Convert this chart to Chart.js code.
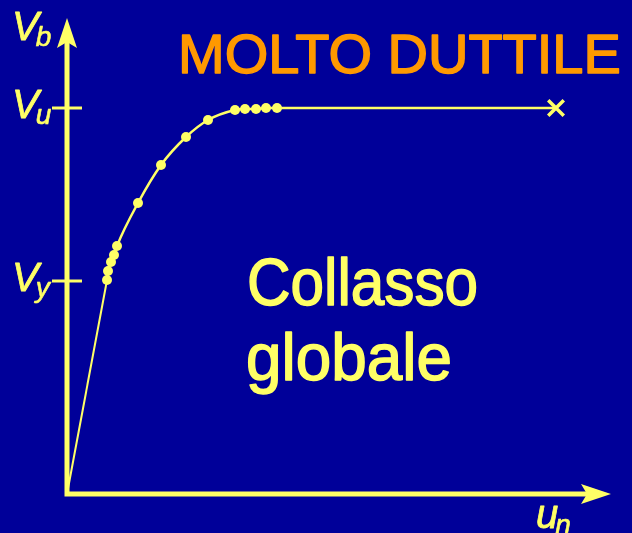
<!DOCTYPE html>
<html>
<head>
<meta charset="utf-8">
<script src="https://cdn.jsdelivr.net/npm/chart.js@4"></script>
<style>
html,body{margin:0;padding:0;background:#000099;}
#wrap{width:632px;height:533px;}
</style>
</head>
<body>
<div id="wrap"><canvas id="chart"></canvas></div>
<script>
// elastic branch: origin -> first yield point
const elasticX = [0, 4.0];
const elasticY = [0, 21.4];
// pushover curve after yielding (last point = collapse)
const pushoverX = [4.0, 4.1, 4.4, 4.7, 5.0, 7.1, 9.4, 11.9, 14.1, 16.8, 17.8, 18.9, 19.9, 21.0, 48.9];
const pushoverY = [21.4, 22.3, 23.2, 23.9, 24.8, 29.1, 32.9, 35.7, 37.4, 38.4, 38.5, 38.5, 38.6, 38.6, 38.6];
const VU = 38.6, VY = 21.3;
const tickLabels = [{main: 'V', sub: 'u', value: VU}, {main: 'V', sub: 'y', value: VY}];
const title = 'MOLTO DUTTILE';
const caption = ['Collasso', 'globale'];

const YELLOW = '#ffff66', ORANGE = '#ff9900';

const toPts = (xs, ys) => xs.map((x, i) => ({x: x, y: ys[i]}));
const last = pushoverX.length - 1;

const axesPlugin = {
	id: 'axes',
	beforeDatasetsDraw(chart){
		const ctx = chart.ctx;
		const a = chart.chartArea;
		const x0 = a.left, y0 = a.bottom;
		ctx.save();
		ctx.strokeStyle = YELLOW;
		ctx.fillStyle = YELLOW;
		ctx.lineWidth = 5;
		ctx.lineCap = 'butt';
		ctx.beginPath();
		ctx.moveTo(x0, y0 + 2.5);
		ctx.lineTo(x0, a.top + 22);
		ctx.moveTo(x0 - 2.5, y0);
		ctx.lineTo(a.right - 20, y0);
		ctx.stroke();
		// arrow heads
		ctx.beginPath();
		ctx.moveTo(x0, a.top);
		ctx.lineTo(x0 + 10, a.top + 30);
		ctx.lineTo(x0, a.top + 24);
		ctx.lineTo(x0 - 10, a.top + 30);
		ctx.closePath();
		ctx.fill();
		const tip = a.right + 4;
		ctx.beginPath();
		ctx.moveTo(tip, y0);
		ctx.lineTo(tip - 30, y0 - 10);
		ctx.lineTo(tip - 24, y0);
		ctx.lineTo(tip - 30, y0 + 10);
		ctx.closePath();
		ctx.fill();
		// Vu / Vy ticks
		ctx.lineWidth = 3;
		tickLabels.forEach(t => {
			const py = chart.scales.y.getPixelForValue(t.value);
			ctx.beginPath();
			ctx.moveTo(x0 - 15, py);
			ctx.lineTo(x0 + 15, py);
			ctx.stroke();
		});
		ctx.restore();
	},
	afterDraw(chart){
		const ctx = chart.ctx;
		ctx.save();
		ctx.textBaseline = 'alphabetic';
		ctx.textAlign = 'left';
		ctx.lineJoin = 'round';
		// slightly heavier strokes, closer to the original handwriting font
		const text = (s, x, y, w, col, sw) => {
			ctx.fillStyle = col;
			ctx.strokeStyle = col;
			ctx.lineWidth = sw;
			ctx.fillText(s, x, y, w);
			ctx.strokeText(s, x, y, w);
		};
		const sym = (main, sub, x, y, big, small) => {
			ctx.font = 'italic ' + big + 'px "Liberation Sans"';
			text(main, x, y, undefined, YELLOW, 0.8);
			const w = ctx.measureText(main).width;
			ctx.font = 'italic ' + small + 'px "Liberation Sans"';
			text(sub, x + w - 3, y + 6, undefined, YELLOW, 0.6);
		};
		sym('V', 'b', 12, 40, 40, 28);
		tickLabels.forEach(t => {
			const py = chart.scales.y.getPixelForValue(t.value);
			sym(t.main, t.sub, 12, py + 10, 40, 28);
		});
		sym('u', 'n', 536, 528, 40, 28);

		ctx.font = '56px "Liberation Sans"';
		text(title, 178, 73, 448, ORANGE, 1.5);

		ctx.font = '66px "Liberation Sans"';
		text(caption[0], 247, 305, 231, YELLOW, 1.5);
		text(caption[1], 246, 380, 206, YELLOW, 1.5);
		ctx.restore();
	}
};

const ctx = document.getElementById('chart').getContext('2d');
const chart = new Chart(ctx, {
	type: 'scatter',
	data: {
		datasets: [{
			data: toPts(elasticX, elasticY),
			showLine: true,
			borderColor: YELLOW,
			borderWidth: 2,
			pointRadius: 0,
			tension: 0
		},
		{
			data: toPts(pushoverX, pushoverY),
			showLine: true,
			borderColor: YELLOW,
			backgroundColor: YELLOW,
			borderWidth: 2.5,
			cubicInterpolationMode: 'monotone',
			pointStyle: pushoverX.map((v, i) => i === last ? 'crossRot' : 'circle'),
			pointRadius: pushoverX.map((v, i) => i === last ? 11 : 5),
			pointBorderWidth: pushoverX.map((v, i) => i === last ? 3.5 : 0),
			pointBorderColor: YELLOW,
			pointBackgroundColor: YELLOW
		}]
	},
	options: {
		responsive: true,
		maintainAspectRatio: false,
		animation: false,
		clip: false,
		layout: {padding: {left: 67, right: 25, top: 18, bottom: 39}},
		scales: {
			x: {type: 'linear', min: 0, max: 54, display: false},
			y: {type: 'linear', min: 0, max: 47.6, display: false}
		},
		plugins: {
			legend: {display: false},
			tooltip: {enabled: false}
		}
	},
	plugins: [axesPlugin]
});
</script>
</body>
</html>
